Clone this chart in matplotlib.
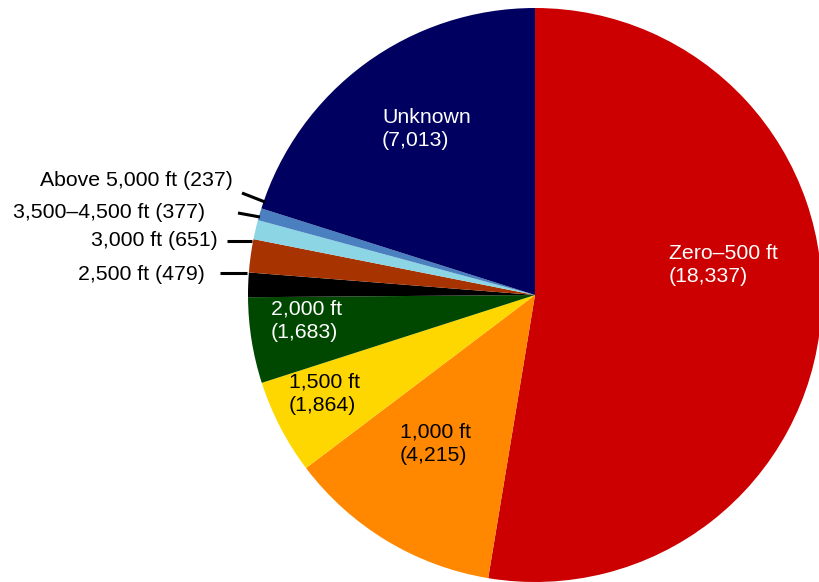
import matplotlib
matplotlib.use("Agg")
import matplotlib.pyplot as plt

# ---- data ----
categories = ["Zero\u2013500 ft", "1,000 ft", "1,500 ft", "2,000 ft", "2,500 ft",
              "3,000 ft", "3,500\u20134,500 ft", "Above 5,000 ft", "Unknown"]
counts = [18337, 4215, 1864, 1683, 479, 651, 377, 237, 7013]
colors = ["#CC0000", "#FF8800", "#FFD700", "#004800", "#000000",
          "#A63300", "#8BD5E5", "#4A80C0", "#000060"]

# ---- layout (pixels in 820x582 figure) ----
W, H = 820, 582
CX, CY, R = 535, 295, 287

def p2d(px, py):
    return ((px - CX) / R, (CY - py) / R)

plt.rcParams['font.family'] = ['Liberation Sans', 'DejaVu Sans']
fig = plt.figure(figsize=(W / 100, H / 100), dpi=100)
ax = fig.add_axes([0, 0, 1, 1])
ax.pie(counts, colors=colors, startangle=90, counterclock=False, radius=1,
       wedgeprops=dict(linewidth=0))
x0, y0 = p2d(0, H)
x1, y1 = p2d(W, 0)
ax.set_xlim(x0, x1)
ax.set_ylim(y0, y1)
ax.set_aspect('equal')
ax.axis('off')

fs = 15.3
labels = [f"{c}\n({v:,})" for c, v in zip(categories, counts)]

# inside labels: index -> (px, py of text left / center), color
inside = {0: (669, 265, 'white'), 1: (400, 444, 'black'), 2: (289, 394, 'black'),
          3: (271, 321, 'white'), 8: (382, 129, 'white')}
for i, (px, py, col) in inside.items():
    x, y = p2d(px, py)
    ax.text(x, y, labels[i], ha='left', va='center', color=col, fontsize=fs,
            linespacing=1.27)

# outside labels: index -> (text right px, text py, line start, line end)
outside = {7: (233, 181, (242, 193), (265, 202)),
           6: (205, 213, (238, 213), (260, 217)),
           5: (218, 241, (227, 241), (252, 241)),
           4: (205, 275, (220, 273), (247, 273))}
for i, (tx, ty, a, b) in outside.items():
    x, y = p2d(tx, ty)
    ax.text(x, y, f"{categories[i]} ({counts[i]:,})", ha='right', va='center',
            color='black', fontsize=fs)
    (ax_, ay_), (bx_, by_) = p2d(*a), p2d(*b)
    ax.plot([ax_, bx_], [ay_, by_], color='black', lw=2.2, solid_capstyle='butt')

fig.savefig("out.png", dpi=100)
